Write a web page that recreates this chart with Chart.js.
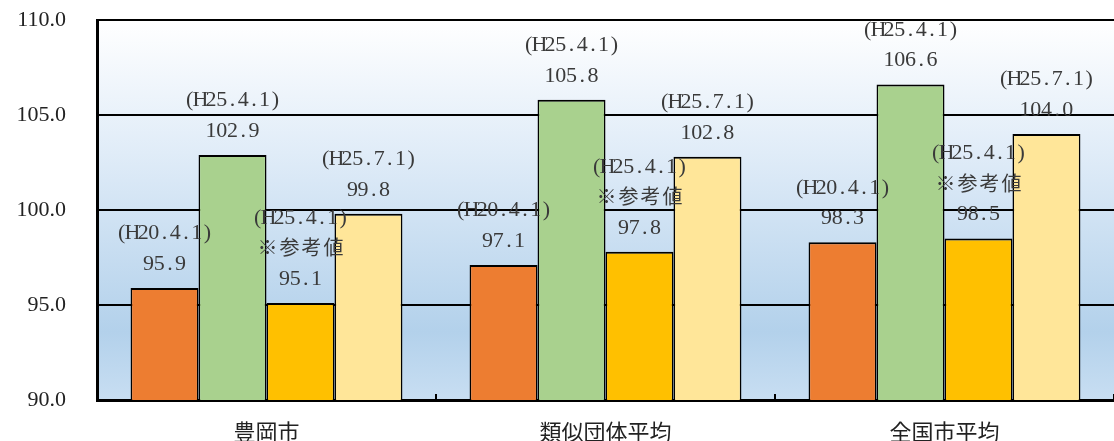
<!DOCTYPE html>
<html lang="ja">
<head>
<meta charset="utf-8">
<script src="https://cdn.jsdelivr.net/npm/chart.js@4/dist/chart.umd.min.js"></script>
<style>
  html, body { margin: 0; padding: 0; background: #ffffff; }
  #wrap { width: 1114px; height: 441px; }
</style>
</head>
<body>
<div id="wrap"><canvas id="c" width="1114" height="441"></canvas></div>
<script>
// Categories and series
const categories = ['豊岡市', '類似団体平均', '全国市平均'];
const seriesH2004 = [95.9, 97.1, 98.3];
const seriesH2504 = [102.9, 105.8, 106.6];
const seriesH2504Ref = [95.1, 97.8, 98.5];
const seriesH2507 = [99.8, 102.8, 104.0];
const seriesDates = ['(H20.4.1)', '(H25.4.1)', '(H25.4.1)', '(H25.7.1)'];
const seriesNotes = ['', '', '※参考値', ''];
const yTicks = [90, 95, 100, 105, 110];

const colors = ['#ED7D31', '#A9D18E', '#FFC000', '#FFE699'];

// Plot area background: pale sky gradient
const backgroundPlugin = {
  id: 'plotBackground',
  beforeDraw(chart) {
    const { ctx, chartArea: a } = chart;
    ctx.save();
    ctx.fillStyle = '#ffffff';
    ctx.fillRect(0, 0, chart.width, chart.height);
    const g = ctx.createLinearGradient(0, a.top, 0, a.bottom);
    g.addColorStop(0, '#FFFFFF');
    g.addColorStop(0.35, '#E0ECF8');
    g.addColorStop(0.82, '#B3D1EB');
    g.addColorStop(1, '#C8DEF2');
    ctx.fillStyle = g;
    ctx.fillRect(a.left, a.top, a.right - a.left, a.bottom - a.top);
    ctx.restore();
  }
};

// Draws text on a fixed character grid: half-width glyphs in narrow cells, CJK in full cells
function drawGridText(ctx, text, cx, cy) {
  const chars = [...text];
  const cells = chars.map(ch => ({ ch, wide: ch.charCodeAt(0) > 0x2000 }));
  const total = cells.reduce((s, c) => s + (c.wide ? 22 : 10.7), 0);
  let x = cx - total / 2;
  ctx.textAlign = 'center';
  ctx.textBaseline = 'middle';
  for (const c of cells) {
    const w = c.wide ? 22 : 10.7;
    ctx.font = c.wide ? '20px "Noto Sans CJK JP"' : '22px "Liberation Serif"';
    ctx.fillText(c.ch, x + w / 2, cy + (c.wide ? 0 : 1));
    x += w;
  }
}

// Value labels stacked above each bar: date, optional note, value
const valueLabelPlugin = {
  id: 'valueLabels',
  afterDatasetsDraw(chart) {
    const ctx = chart.ctx;
    ctx.save();
    ctx.fillStyle = '#3a3a3a';
    chart.data.datasets.forEach((ds, di) => {
      const meta = chart.getDatasetMeta(di);
      meta.data.forEach((bar, i) => {
        const lines = [seriesDates[di]];
        if (seriesNotes[di]) lines.push(seriesNotes[di]);
        lines.push(ds.data[i].toFixed(1));
        const baseY = bar.y - 25;
        for (let k = 0; k < lines.length; k++) {
          const y = baseY - (lines.length - 1 - k) * 30.5;
          drawGridText(ctx, lines[k], bar.x, y);
        }
      });
    });
    ctx.restore();
  }
};

const allSeries = [seriesH2004, seriesH2504, seriesH2504Ref, seriesH2507];

new Chart(document.getElementById('c'), {
  type: 'bar',
  data: {
    labels: categories,
    datasets: allSeries.map((values, i) => ({
      label: seriesDates[i] + seriesNotes[i],
      data: values,
      backgroundColor: colors[i],
      borderColor: '#000000',
      borderWidth: { top: 2, left: 1.6, right: 1.6, bottom: 0 },
      borderSkipped: 'bottom',
      categoryPercentage: 0.802,
      barPercentage: 1.0
    }))
  },
  options: {
    responsive: false,
    animation: false,
    devicePixelRatio: 1,
    layout: { padding: { top: 20, right: 0, left: 0, bottom: 0 } },
    plugins: {
      legend: { display: false },
      tooltip: { enabled: false }
    },
    scales: {
      x: {
        offset: true,
        grid: {
          display: true,
          drawOnChartArea: false,
          drawTicks: true,
          tickLength: -6,
          color: '#000000',
          lineWidth: 2
        },
        border: { display: true, color: '#000000', width: 3 },
        ticks: {
          color: '#222222',
          padding: 24,
          font: { family: '"Noto Sans CJK JP"', size: 22 }
        },
        afterFit(scale) { scale.height = 41; }
      },
      y: {
        min: 90,
        max: 110,
        afterBuildTicks(scale) { scale.ticks = yTicks.map(v => ({ value: v })); },
        grid: {
          color: '#000000',
          lineWidth: 2,
          drawTicks: false
        },
        border: { display: true, color: '#000000', width: 3 },
        ticks: {
          color: '#222222',
          padding: 31,
          font: { family: '"Liberation Serif"', size: 22 },
          callback: v => Number(v).toFixed(1)
        },
        afterFit(scale) {
          scale.width = 97;
          scale.paddingTop = 0;
          scale.paddingBottom = 0;
        }
      }
    }
  },
  plugins: [backgroundPlugin, valueLabelPlugin]
});
</script>
</body>
</html>
